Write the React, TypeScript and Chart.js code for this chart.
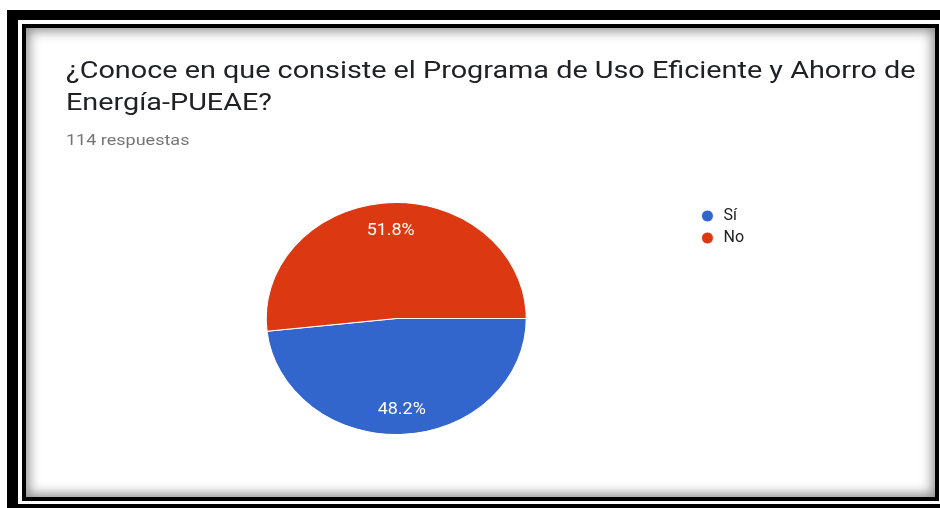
import React, { useEffect, useRef } from "react";
import { Chart, registerables } from "chart.js";

Chart.register(...registerables);

const titleLines = [
  "¿Conoce en que consiste el Programa de Uso Eficiente y Ahorro de",
  "Energía-PUEAE?",
];
const categories = ["Sí", "No"];
const responses = [55, 59];
const sliceColors = ["#3366CC", "#DC3912"];

const FONT = 'Roboto, "Noto Sans", sans-serif';
const SCALE_X = 1.121;

const ellipsePlugin = {
  id: "ellipse",
  beforeDatasetsDraw(chart: any) {
    const arc = chart.getDatasetMeta(0).data[0];
    if (!arc) return;
    const { x, y } = arc;
    const ctx = chart.ctx;
    ctx.save();
    ctx.translate(x, y);
    ctx.scale(SCALE_X, 1);
    ctx.translate(-x, -y);
  },
  afterDatasetsDraw(chart: any) {
    chart.ctx.restore();
  },
};

const labelPlugin = {
  id: "sliceLabels",
  afterDraw(chart: any) {
    const ctx = chart.ctx;
    const data = chart.data.datasets[0].data as number[];
    const total = data.reduce((a, b) => a + b, 0);
    chart.getDatasetMeta(0).data.forEach((arc: any, i: number) => {
      const mid = (arc.startAngle + arc.endAngle) / 2;
      const r = arc.outerRadius * 0.77;
      const px = arc.x + Math.cos(mid) * r * SCALE_X;
      const py = arc.y + Math.sin(mid) * r + 2;
      ctx.save();
      ctx.translate(px, py);
      ctx.scale(1.12, 1);
      ctx.fillStyle = "#ffffff";
      ctx.font = `16px ${FONT}`;
      ctx.textAlign = "center";
      ctx.textBaseline = "middle";
      ctx.fillText(((data[i] / total) * 100).toFixed(1) + "%", 0, 0);
      ctx.restore();
    });
  },
};

export default function App() {
  const ref = useRef<HTMLCanvasElement>(null);
  const total = responses.reduce((a, b) => a + b, 0);

  useEffect(() => {
    if (!ref.current) return;
    const chart = new Chart(ref.current, {
      type: "pie",
      data: {
        labels: categories,
        datasets: [
          {
            data: responses,
            backgroundColor: sliceColors,
            borderColor: "#ffffff",
            borderWidth: 1,
          },
        ],
      },
      options: {
        animation: false,
        responsive: false,
        devicePixelRatio: 1,
        rotation: 90,
        layout: { padding: { left: 99, top: 202, right: 186, bottom: 73 } },
        plugins: {
          legend: {
            position: "right",
            align: "start",
            labels: {
              usePointStyle: true,
              pointStyle: "circle",
              boxWidth: 16,
              boxHeight: 8.5,
              padding: 6,
              color: "#202124",
              font: { family: FONT, size: 16 },
            },
          },
          tooltip: { enabled: false },
        },
      },
      plugins: [ellipsePlugin, labelPlugin],
    } as any);
    return () => chart.destroy();
  }, []);

  return (
    <div
      style={{
        position: "absolute",
        left: 0,
        top: 0,
        width: 940,
        height: 508,
        overflow: "hidden",
        background: "#fff",
      }}
    >
      <div style={{ position: "absolute", left: 7, top: 10, width: 950, height: 510, background: "#000" }} />
      <div style={{ position: "absolute", left: 18, top: 20, width: 940, height: 484, background: "#fff" }} />
      <div
        style={{
          position: "absolute",
          left: 22,
          top: 24,
          width: 917,
          height: 477,
          border: "4px solid #000",
          boxSizing: "border-box",
          background: "#fff",
          boxShadow: "inset 0 0 12px 3px rgba(0,0,0,0.45)",
        }}
      />
      <canvas
        ref={ref}
        width={940}
        height={508}
        style={{ position: "absolute", left: 0, top: 0, width: 940, height: 508 }}
      />
      <div
        style={{
          position: "absolute",
          left: 66,
          top: 54,
          fontFamily: FONT,
          fontSize: 24,
          lineHeight: "32px",
          color: "#202124",
          whiteSpace: "nowrap",
          transform: "scaleX(1.2)",
          transformOrigin: "0 0",
        }}
      >
        {titleLines.map((l, i) => (
          <div key={i}>{l}</div>
        ))}
      </div>
      <div
        style={{
          position: "absolute",
          left: 66,
          top: 130,
          fontFamily: FONT,
          fontSize: 15,
          lineHeight: "20px",
          color: "#757575",
          whiteSpace: "nowrap",
          transform: "scaleX(1.2)",
          transformOrigin: "0 0",
        }}
      >
        {total} respuestas
      </div>
    </div>
  );
}
